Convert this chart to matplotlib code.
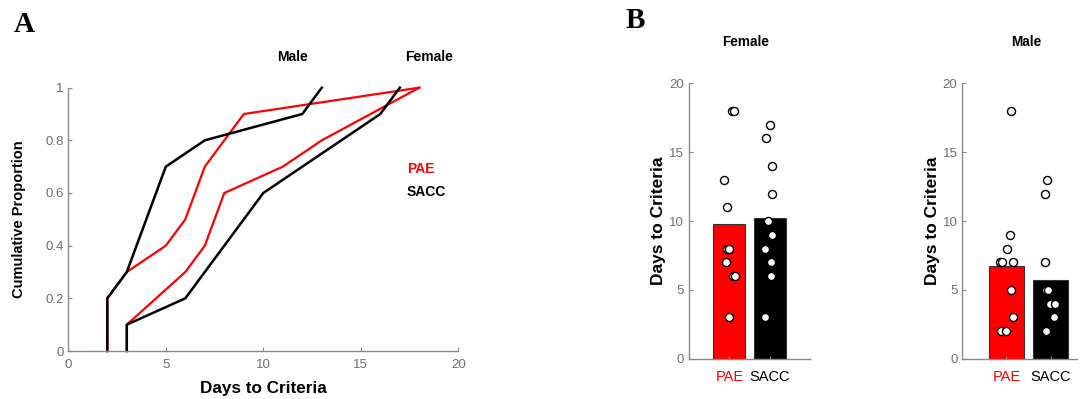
import matplotlib
matplotlib.use('Agg')
import matplotlib.pyplot as plt

plt.rcParams['font.family'] = ['Liberation Sans', 'DejaVu Sans']

# panel A: cumulative proportion vs days to criteria
male_pae_x = [2, 2, 3, 5, 6, 7, 9, 18]
male_pae_y = [0, 0.2, 0.3, 0.4, 0.5, 0.7, 0.9, 1.0]
male_sacc_x = [2, 2, 3, 5, 7, 12, 13]
male_sacc_y = [0, 0.2, 0.3, 0.7, 0.8, 0.9, 1.0]
female_pae_x = [3, 3, 6, 7, 8, 11, 13, 18]
female_pae_y = [0, 0.1, 0.3, 0.4, 0.6, 0.7, 0.8, 1.0]
female_sacc_x = [3, 3, 6, 10, 16, 17]
female_sacc_y = [0, 0.1, 0.2, 0.6, 0.9, 1.0]

# panel B: bars (group means) and individual animals
groups = ['PAE', 'SACC']
female_means = [9.8, 10.25]
male_means = [6.7, 5.7]
female_pae_days = [18, 18, 13, 11, 8, 8, 7, 6, 6, 3]
female_pae_jit = [0.07, 0.11, -0.13, -0.05, -0.05, -0.02, -0.09, 0.09, 0.14, 0.0]
female_sacc_days = [17, 16, 14, 12, 10, 9, 8, 7, 6, 3]
female_sacc_jit = [0.0, -0.08, 0.05, 0.05, -0.03, 0.07, -0.11, 0.04, 0.04, -0.12]
male_pae_days = [18, 9, 8, 7, 7, 7, 5, 3, 2, 2]
male_pae_jit = [0.11, 0.09, 0.01, -0.15, -0.11, 0.14, 0.10, 0.15, -0.12, -0.02]
male_sacc_days = [13, 12, 7, 5, 5, 4, 4, 3, 2]
male_sacc_jit = [-0.07, -0.12, -0.13, -0.10, -0.05, -0.02, 0.11, 0.08, -0.11]

RED = '#ff0000'
AX_GRAY = '#8a8a8a'
TXT_GRAY = '#6e6e6e'


def style_axes(ax):
    for s in ['top', 'right']:
        ax.spines[s].set_visible(False)
    for s in ['left', 'bottom']:
        ax.spines[s].set_color(AX_GRAY)
        ax.spines[s].set_linewidth(1.0)
    ax.tick_params(direction='in', length=3, color=AX_GRAY, labelcolor=TXT_GRAY, labelsize=9.5)


fig = plt.figure(figsize=(10.84, 3.99), dpi=100)

# ---- A ----
axA = fig.add_axes([0.0630, 0.1203, 0.3598, 0.660])
axA.plot(male_pae_x, male_pae_y, color=RED, lw=1.6)
axA.plot(female_pae_x, female_pae_y, color=RED, lw=1.6)
axA.plot(male_sacc_x, male_sacc_y, color='black', lw=1.8)
axA.plot(female_sacc_x, female_sacc_y, color='black', lw=1.8)
axA.set_xlim(0, 20)
axA.set_ylim(0, 1)
axA.set_xticks([0, 5, 10, 15, 20])
axA.set_yticks([0, 0.2, 0.4, 0.6, 0.8, 1])
axA.set_yticklabels(['0', '0.2', '0.4', '0.6', '0.8', '1'])
style_axes(axA)
axA.tick_params(axis='x', pad=6)
axA.set_xlabel('Days to Criteria', fontsize=12.3, fontweight='bold', labelpad=7)
axA.set_ylabel('Cumulative Proportion', fontsize=10.5, fontweight='bold', labelpad=14)
axA.text(11.5, 1.115, 'Male', fontsize=10, fontweight='bold', ha='center', va='center')
axA.text(18.5, 1.118, 'Female', fontsize=10, fontweight='bold', ha='center', va='center')
axA.text(17.35, 0.69, 'PAE', fontsize=10, fontweight='bold', color=RED, va='center')
axA.text(17.35, 0.604, 'SACC', fontsize=10, fontweight='bold', color='black', va='center')
for ln in axA.lines:
    ln.set_clip_on(False)

# ---- B ----
def bar_panel(rect, xmax, means, pae_days, pae_jit, sacc_days, sacc_jit, title, tx):
    ax = fig.add_axes(rect)
    ax.bar([1, 2], means, width=0.8, color=[RED, 'black'], edgecolor='#333333', linewidth=0.8)
    ax.plot([1 + j for j in pae_jit], pae_days, 'o', ms=5.8, mfc='white', mec='black', mew=1.0)
    ax.plot([2 + j for j in sacc_jit], sacc_days, 'o', ms=5.8, mfc='white', mec='black', mew=1.0)
    ax.set_xlim(0, xmax)
    ax.set_ylim(0, 20)
    ax.set_yticks([0, 5, 10, 15, 20])
    ax.set_xticks([1, 2])
    ax.set_xticklabels(groups, fontsize=10.5)
    style_axes(ax)
    ax.tick_params(axis='x', length=2, pad=8, labelsize=10.5)
    tl = ax.get_xticklabels()
    tl[0].set_color(RED)
    tl[1].set_color('black')
    ax.set_ylabel('Days to Criteria', fontsize=12.5, fontweight='bold', labelpad=2)
    ax.text(tx, 1.15, title, transform=ax.transAxes, fontsize=9.8,
            fontweight='bold', ha='center', va='center')
    for c in ax.lines:
        c.set_clip_on(False)
    return ax


bar_panel([0.6356, 0.101, 0.1116, 0.690], 3.0, female_means,
          female_pae_days, female_pae_jit, female_sacc_days, female_sacc_jit, 'Female', 0.47)
bar_panel([0.8877, 0.101, 0.1055, 0.690], 2.59, male_means,
          male_pae_days, male_pae_jit, male_sacc_days, male_sacc_jit, 'Male', 0.56)

fig.text(24 / 1084, 1 - 24 / 399, 'A', family='Liberation Serif', fontsize=21,
         fontweight='bold', ha='center', va='center')
fig.text(635 / 1084, 1 - 21 / 399, 'B', family='Liberation Serif', fontsize=21,
         fontweight='bold', ha='center', va='center')

fig.savefig('out.png', dpi=100)
